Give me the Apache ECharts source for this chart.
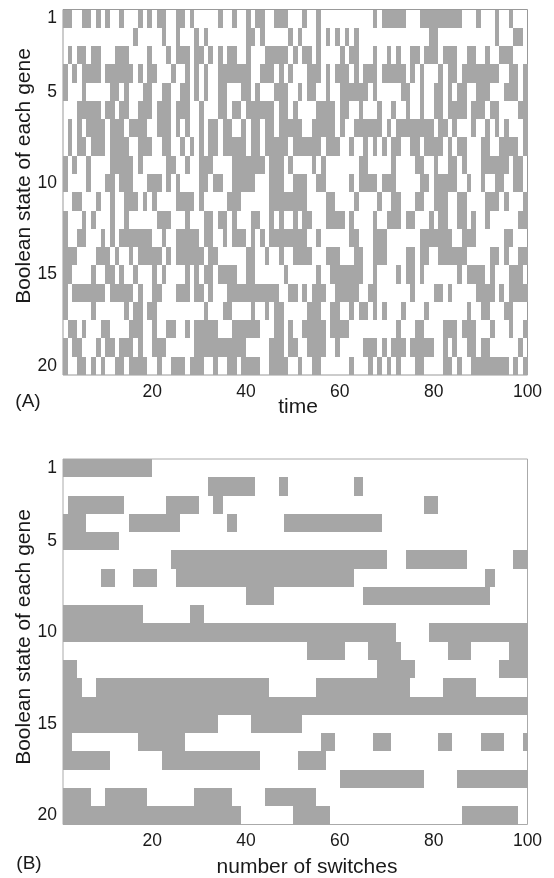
<!DOCTYPE html>
<html>
<head>
<meta charset="utf-8">
<title>Boolean state of each gene</title>
<script src="https://cdn.jsdelivr.net/npm/echarts@6/dist/echarts.min.js"></script>
<style>
    html, body { margin: 0; padding: 0; background: #fff; }
    #chart { width: 554px; height: 878px; }
</style>
</head>
<body>
<div id="chart"></div>
<script>
const xTicks = [20, 40, 60, 80, 100];
const geneTicks = [1, 5, 10, 15, 20];
const titleY = 'Boolean state of each gene';

// "on" stretches per gene, [from, to] on the x axis
const timeRuns = [
    [[1,3],[5,7],[8,9],[10,11],[13,14],[17,18],[19,20],[21,23],[25,27],[28,29],[34,35],[37,38],[40,41],[42,44],[46,49],[52,53],[55,56],[67,68],[69,74],[77,86],[89,90],[93,94],[96,97]],
    [[16,17],[22,23],[25,26],[29,30],[31,32],[40,42],[43,44],[49,50],[51,52],[55,56],[57,58],[59,60],[61,62],[63,64],[79,81],[93,94],[97,99]],
    [[2,3],[4,6],[7,9],[12,15],[19,20],[23,24],[25,28],[29,31],[32,33],[34,35],[36,38],[40,41],[44,49],[50,51],[52,54],[55,56],[60,61],[62,64],[67,68],[70,71],[72,73],[75,77],[78,81],[82,85],[87,89],[91,92],[94,97]],
    [[1,2],[3,4],[5,9],[10,16],[17,18],[19,21],[24,25],[27,28],[29,30],[31,32],[34,41],[43,46],[47,48],[49,50],[53,56],[57,58],[59,62],[63,64],[65,68],[69,74],[75,76],[77,78],[81,82],[83,85],[86,94],[96,98],[99,100]],
    [[1,2],[5,6],[11,13],[14,15],[18,20],[22,24],[26,28],[29,30],[31,32],[34,36],[39,41],[42,43],[46,49],[51,52],[53,55],[57,58],[60,61],[61,66],[67,68],[73,75],[77,78],[80,82],[83,84],[85,87],[89,92],[95,98],[99,100]],
    [[4,9],[10,12],[13,15],[17,20],[21,24],[25,28],[30,31],[34,36],[37,39],[40,46],[47,49],[50,51],[55,59],[60,62],[64,65],[68,69],[71,72],[74,75],[77,78],[80,82],[83,87],[88,91],[92,94],[98,100]],
    [[2,3],[4,5],[6,10],[11,14],[15,19],[21,24],[25,26],[27,28],[30,31],[32,34],[35,37],[39,40],[41,43],[44,46],[47,52],[54,59],[60,61],[63,69],[70,71],[72,80],[81,83],[84,85],[88,89],[91,92],[93,94],[95,96],[99,100]],
    [[2,3],[4,6],[7,10],[11,15],[17,20],[22,24],[26,27],[28,29],[30,31],[32,34],[35,40],[41,43],[44,49],[50,56],[57,60],[62,63],[65,66],[67,68],[69,70],[71,73],[75,77],[78,82],[83,84],[85,87],[90,92],[94,98],[99,100]],
    [[1,2],[3,4],[6,7],[11,16],[17,18],[23,25],[27,28],[30,33],[37,44],[45,48],[49,50],[54,55],[56,57],[64,66],[71,72],[76,78],[80,81],[83,85],[86,87],[90,96],[97,99]],
    [[1,2],[6,7],[10,12],[13,16],[19,22],[23,24],[25,26],[30,32],[33,35],[37,42],[45,48],[50,51],[51,53],[55,57],[62,63],[64,68],[69,72],[77,79],[80,85],[87,88],[90,91],[93,95],[97,99]],
    [[3,5],[8,9],[11,12],[14,17],[18,19],[20,21],[25,29],[30,31],[36,39],[45,48],[48,53],[57,59],[63,64],[68,69],[71,73],[76,78],[80,83],[85,87],[91,94],[95,96],[99,100]],
    [[1,2],[5,6],[7,8],[11,12],[14,15],[21,24],[27,28],[31,33],[34,36],[37,38],[41,43],[45,46],[47,48],[50,51],[52,54],[57,61],[62,63],[67,68],[70,73],[74,76],[79,80],[81,83],[85,87],[88,89],[91,92],[98,100]],
    [[1,2],[4,6],[9,10],[11,12],[13,20],[22,23],[25,30],[31,33],[35,36],[37,40],[41,42],[43,44],[45,53],[55,56],[62,64],[67,70],[77,84],[86,89],[95,97]],
    [[1,4],[8,11],[12,13],[15,16],[17,22],[23,24],[25,31],[32,34],[40,42],[44,45],[47,48],[50,54],[57,60],[63,65],[67,70],[74,76],[77,79],[81,87],[92,94],[95,96],[98,100]],
    [[1,3],[7,8],[10,12],[13,14],[16,17],[20,21],[22,23],[27,28],[29,30],[31,33],[34,38],[40,42],[48,49],[55,56],[58,65],[67,68],[72,73],[74,76],[77,78],[85,86],[87,91],[92,93],[96,99]],
    [[1,2],[3,10],[11,16],[17,18],[20,22],[25,28],[29,31],[32,33],[36,47],[49,51],[52,53],[54,57],[59,64],[66,68],[75,76],[80,82],[83,84],[89,93],[94,95],[96,100]],
    [[1,2],[7,8],[14,15],[16,18],[19,21],[31,32],[35,37],[41,42],[44,45],[46,48],[53,56],[58,60],[62,63],[64,66],[67,68],[69,70],[73,74],[78,79],[87,88],[90,92],[95,97]],
    [[2,4],[5,6],[9,11],[15,18],[20,21],[23,25],[27,28],[29,34],[37,43],[46,48],[49,50],[52,57],[58,62],[72,73],[76,78],[82,85],[86,89],[92,93],[96,97],[99,100]],
    [[1,2],[3,5],[8,9],[10,12],[13,16],[17,18],[20,23],[29,40],[45,48],[49,51],[53,57],[59,60],[65,68],[69,70],[71,74],[75,80],[82,83],[84,85],[87,89],[90,92],[98,99]],
    [[1,2],[4,6],[7,8],[9,10],[12,14],[15,19],[21,22],[24,27],[28,31],[33,34],[36,38],[39,43],[45,48],[48,49],[51,52],[54,56],[62,63],[66,67],[68,69],[70,71],[72,73],[76,78],[82,84],[85,86],[88,96],[97,98],[99,100]]
];

const switchRuns = [
    [[1,20]],
    [[32,42],[47,49],[63,65]],
    [[2,14],[23,30],[33,35],[78,81]],
    [[1,6],[15,26],[36,38],[48,69]],
    [[1,13]],
    [[24,70],[74,87],[97,100]],
    [[9,12],[16,21],[25,63],[91,93]],
    [[40,46],[65,92]],
    [[1,18],[28,31]],
    [[1,72],[79,100]],
    [[53,61],[66,73],[83,88],[96,100]],
    [[1,4],[68,76],[94,100]],
    [[1,5],[8,45],[55,75],[82,89]],
    [[1,100]],
    [[1,34],[41,52]],
    [[1,3],[17,27],[56,59],[67,71],[81,84],[90,95],[99,100]],
    [[1,11],[22,43],[51,57]],
    [[60,78],[85,100]],
    [[1,7],[10,19],[29,37],[44,55]],
    [[1,39],[50,58],[86,98]]
];

function toCells(runs) {
    const cells = [];
    runs.forEach((row, i) => {
        row.forEach(r => cells.push([i + 1, r[0], r[1]]));
    });
    return cells;
}

function renderRun(params, api) {
    const a = api.coord([api.value(1), api.value(0) - 0.5]);
    const b = api.coord([api.value(2), api.value(0) + 0.5]);
    const x0 = Math.round(a[0]), x1 = Math.round(b[0]);
    const y0 = Math.round(a[1]), y1 = Math.round(b[1]);
    return {
        type: 'rect',
        shape: { x: x0, y: y0, width: x1 - x0, height: y1 - y0 },
        style: { fill: '#a6a6a6' }
    };
}

const labelFont = { fontFamily: 'Liberation Sans', fontSize: 17.5, color: '#1a1a1a' };

function xAxisFor(idx) {
    return {
        type: 'value', gridIndex: idx, min: 1, max: 100,
        axisLine: { show: false }, axisTick: { show: false }, splitLine: { show: false },
        axisLabel: { ...labelFont, customValues: xTicks, margin: 8 }
    };
}
function yAxisFor(idx) {
    return {
        type: 'value', gridIndex: idx, min: 0.5, max: 20.5, inverse: true,
        axisLine: { show: false }, axisTick: { show: false }, splitLine: { show: false },
        axisLabel: { ...labelFont, customValues: geneTicks, margin: 6 }
    };
}

function textEl(text, x, y, rotate, size) {
    return {
        type: 'text', x: x, y: y, rotation: rotate || 0, silent: true,
        style: {
            text: text, fill: '#1a1a1a', font: (size || 21) + 'px "Liberation Sans"',
            textAlign: 'center', textVerticalAlign: 'middle'
        }
    };
}

const chart = echarts.init(document.getElementById('chart'), null, { renderer: 'canvas' });
chart.setOption({
    animation: false,
    backgroundColor: '#fff',
    grid: [
        { left: 63, top: 9.5, width: 464.5, height: 365.5, show: true, borderColor: '#999', borderWidth: 1, backgroundColor: '#fff' },
        { left: 63, top: 459, width: 464.5, height: 365.5, show: true, borderColor: '#aaa', borderWidth: 1, backgroundColor: '#fff' }
    ],
    xAxis: [xAxisFor(0), xAxisFor(1)],
    yAxis: [yAxisFor(0), yAxisFor(1)],
    series: [
        { type: 'custom', xAxisIndex: 0, yAxisIndex: 0, encode: { x: [1, 2], y: 0 }, renderItem: renderRun, data: toCells(timeRuns), silent: true },
        { type: 'custom', xAxisIndex: 1, yAxisIndex: 1, encode: { x: [1, 2], y: 0 }, renderItem: renderRun, data: toCells(switchRuns), silent: true }
    ],
    graphic: [
        textEl(titleY, 24, 176, Math.PI / 2),
        textEl(titleY, 24, 637, Math.PI / 2),
        textEl('time', 298, 407),
        textEl('number of switches', 307, 867),
        textEl('(A)', 28, 402, 0, 19),
        textEl('(B)', 29, 864, 0, 19)
    ]
});
</script>
</body>
</html>
